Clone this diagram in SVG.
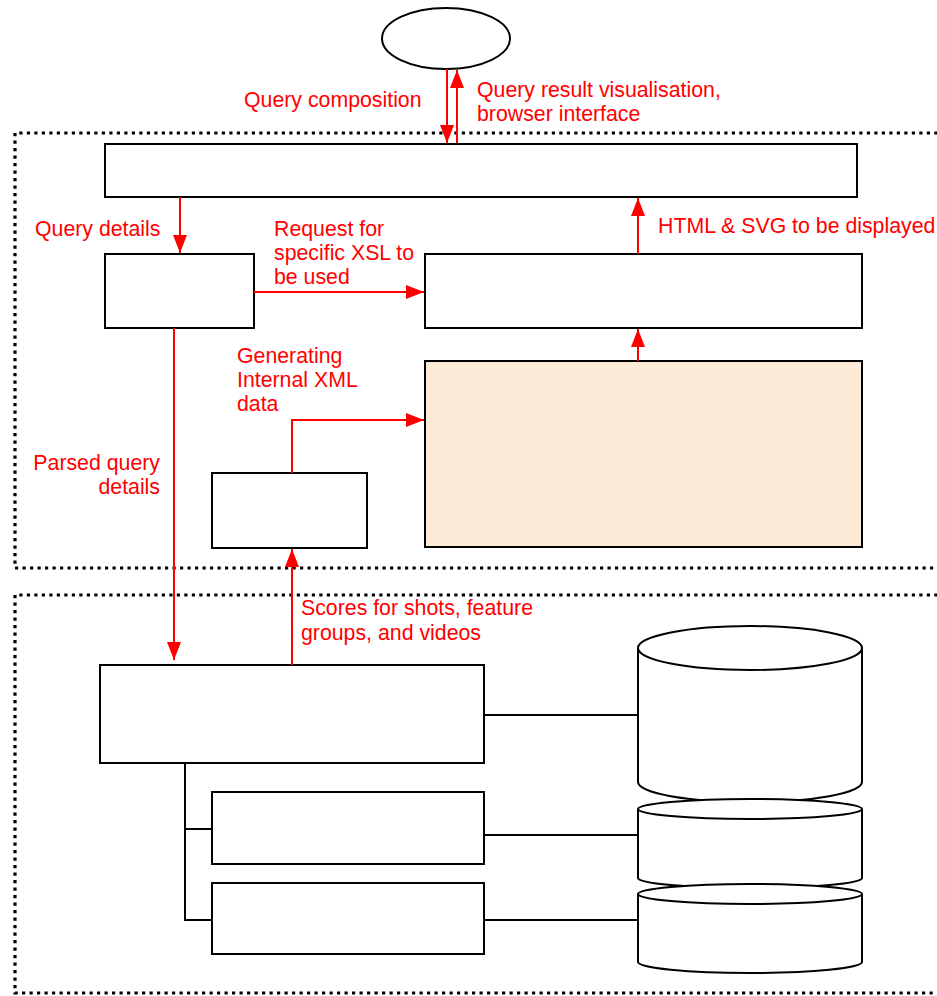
<svg xmlns="http://www.w3.org/2000/svg" width="937" height="996" viewBox="0 0 937 996">
<defs>
<marker id="ah" markerUnits="userSpaceOnUse" markerWidth="20" markerHeight="16" refX="18" refY="8" orient="auto">
<path d="M0,1 L18,8 L0,15 Z" fill="#FF0000"/>
</marker>
<style>
.box{fill:#fff;stroke:#000;stroke-width:2}
.dot{fill:none;stroke:#000;stroke-width:3.2;stroke-dasharray:3.2 4.3}
.ln{fill:none;stroke:#000;stroke-width:2}
.ar{fill:none;stroke:#FF0000;stroke-width:2;marker-end:url(#ah)}
text{font-family:"Liberation Sans",Arial,sans-serif;font-size:21.3px;fill:#FF0000}
</style>
</defs>
<rect width="937" height="996" fill="#fff"/>
<g id="zone-top"><path class="dot" d="M945,133 H15 V568 H945"/></g>
<g id="zone-bottom"><path class="dot" d="M945,595 H15 V993 H945"/></g>
<g id="user"><ellipse cx="446" cy="38.5" rx="64" ry="30.5" fill="#fff" stroke="#000" stroke-width="2"/></g>
<g id="browser"><rect class="box" x="105" y="144" width="752" height="53"/></g>
<g id="parser"><rect class="box" x="105" y="254" width="149" height="74"/></g>
<g id="xsl"><rect class="box" x="425" y="254" width="437" height="74"/></g>
<g id="xml"><rect x="425" y="361" width="437" height="186" fill="#FDEBD7" stroke="#000" stroke-width="2"/></g>
<g id="generator"><rect class="box" x="212" y="473" width="155" height="75"/></g>
<g id="engine"><rect class="box" x="100" y="665" width="384" height="98"/></g>
<g id="sub1"><rect class="box" x="212" y="792" width="272" height="72"/></g>
<g id="sub2"><rect class="box" x="212" y="883" width="272" height="71"/></g>
<g id="db1"><path d="M638,648 V782 A112,20 0 0 0 862,782 V648 A112,22 0 0 0 638,648 A112,22 0 0 0 862,648" fill="#fff" stroke="#000" stroke-width="2"/></g>
<g id="db2"><path d="M638,809 V878 A112,10 0 0 0 862,878 V809 A112,10 0 0 0 638,809 A112,10 0 0 0 862,809" fill="#fff" stroke="#000" stroke-width="2"/></g>
<g id="db3"><path d="M638,894 V962 A112,11 0 0 0 862,962 V894 A112,10 0 0 0 638,894 A112,10 0 0 0 862,894" fill="#fff" stroke="#000" stroke-width="2"/></g>
<g id="connectors">
<path class="ln" d="M484,715 H638"/>
<path class="ln" d="M484,835 H638"/>
<path class="ln" d="M484,920 H638"/>
<path class="ln" d="M185,763 V920 H212 M185,829 H212"/>
<path class="ar" d="M447,69 V143"/>
<path class="ar" d="M457,143 V70"/>
<path class="ar" d="M180,197 V253"/>
<path class="ar" d="M254,292 H424"/>
<path class="ar" d="M638,254 V198"/>
<path class="ar" d="M638,361 V329"/>
<path class="ar" d="M292,473 V420 H424"/>
<path class="ar" d="M174,328 V660"/>
<path class="ar" d="M292,665 V549"/>
</g>
<g id="labels">
<text x="244" y="107">Query composition</text>
<text x="477" y="97">Query result visualisation,</text>
<text x="477" y="121">browser interface</text>
<text x="35" y="236">Query details</text>
<text x="274" y="236">Request for</text>
<text x="274" y="260">specific XSL to</text>
<text x="274" y="284">be used</text>
<text x="658" y="233">HTML &amp; SVG to be displayed</text>
<text x="237" y="363">Generating</text>
<text x="237" y="387">Internal XML</text>
<text x="237" y="411">data</text>
<text x="160" y="470" text-anchor="end">Parsed query</text>
<text x="160" y="494" text-anchor="end">details</text>
<text x="301" y="615">Scores for shots, feature</text>
<text x="301" y="640">groups, and videos</text>
</g>
</svg>
